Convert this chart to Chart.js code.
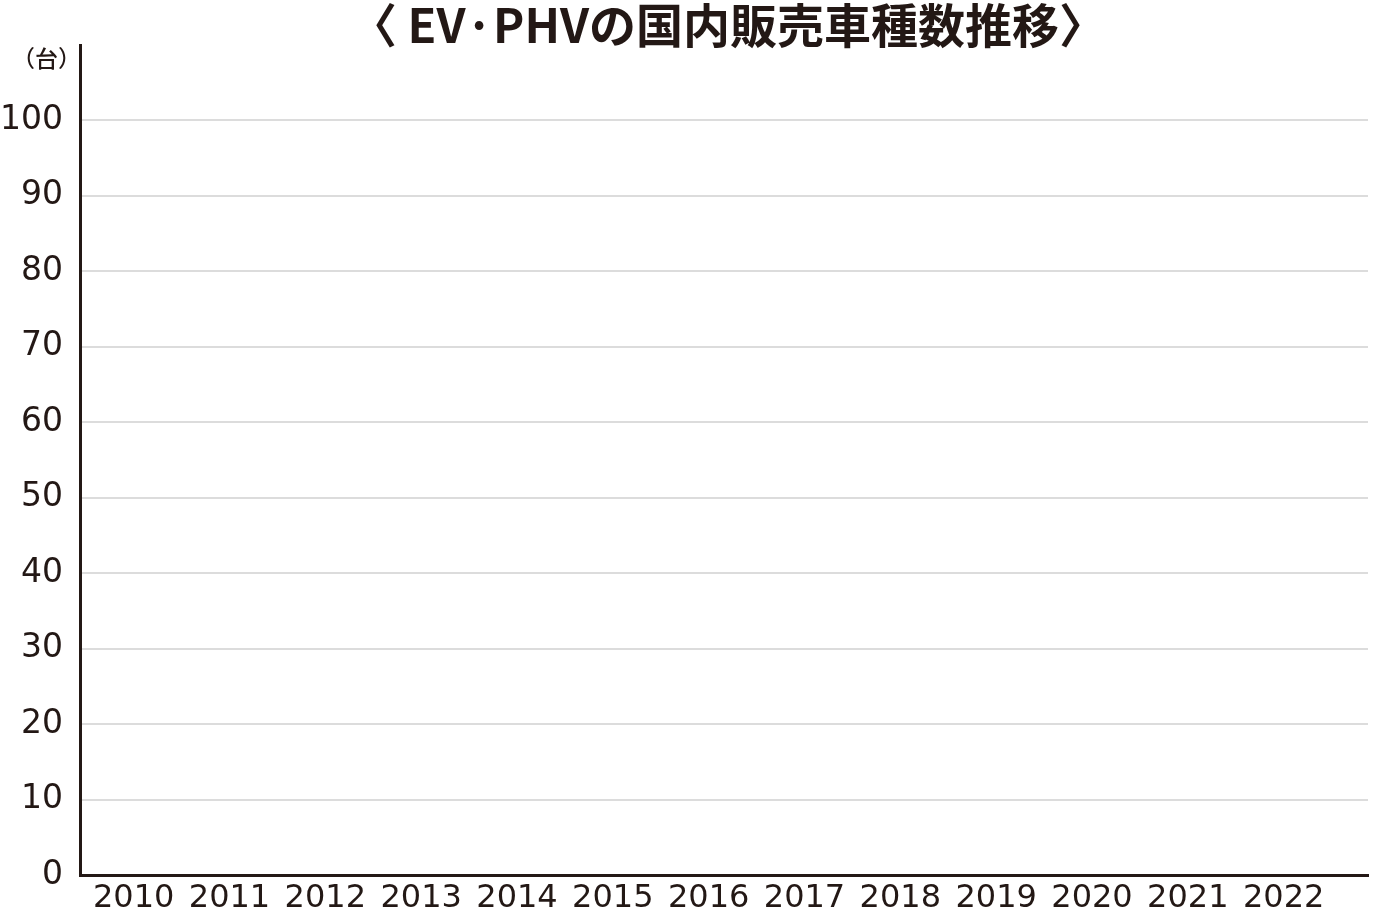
<!DOCTYPE html>
<html>
<head>
<meta charset="utf-8">
<script src="https://cdn.jsdelivr.net/npm/chart.js@4"></script>
<style>
  html, body { margin: 0; padding: 0; background: #fff; }
  #wrap { position: relative; width: 1376px; height: 912px; }
  #title {
    position: absolute; left: 0; top: -2px; width: 1456px; margin: 0;
    text-align: center; font: 700 47px "Noto Sans CJK JP", sans-serif;
    color: #231815; line-height: 50px;
  }
</style>
</head>
<body>
<div id="wrap">
  <canvas id="chart" width="1376" height="912"></canvas>
  <h1 id="title">〈 EV·PHVの国内販売車種数推移〉</h1>
</div>
<script>
// years on the x axis, nothing plotted in the source picture
const years = [2010, 2011, 2012, 2013, 2014, 2015, 2016, 2017, 2018, 2019, 2020, 2021, 2022];
const modelCounts = [null, null, null, null, null, null, null, null, null, null, null, null, null];
const yTicks = [0, 10, 20, 30, 40, 50, 60, 70, 80, 90, 100];
const unitLabel = '（台）';

const ink = '#231815';
const jpFont = '"Noto Sans CJK JP", sans-serif';
const numFont = '"DejaVu Sans", sans-serif';

const unitPlugin = {
  id: 'unit',
  afterDraw(chart) {
    const c = chart.ctx;
    c.save();
    c.font = '500 23px ' + jpFont;
    c.fillStyle = ink;
    c.textAlign = 'right';
    c.textBaseline = 'middle';
    c.fillText(unitLabel, chart.chartArea.left + 1, 58);
    c.restore();
  }
};

new Chart(document.getElementById('chart'), {
  type: 'bar',
  data: {
    datasets: [{
      label: '車種数',
      data: years.map((y, i) => ({ x: y, y: modelCounts[i] })),
      backgroundColor: ink
    }]
  },
  options: {
    responsive: false,
    animation: false,
    layout: { padding: { top: 45, right: 8, left: 0, bottom: 0 } },
    plugins: { legend: { display: false }, tooltip: { enabled: false } },
    scales: {
      x: {
        type: 'linear',
        offset: false,
        min: 2009.44,
        max: 2022.88,
        afterBuildTicks: s => { s.ticks = years.map(v => ({ value: v })); },
        afterFit: s => { s.height = 37; },
        grid: { display: false, drawTicks: false },
        border: { color: ink, width: 3 },
        ticks: {
          color: ink,
          padding: 4,
          maxRotation: 0,
          autoSkip: false,
          font: { family: numFont, size: 32 },
          callback: v => String(v)
        }
      },
      y: {
        min: 0,
        max: 110,
        afterBuildTicks: s => { s.ticks = yTicks.map(v => ({ value: v })); },
        afterFit: s => { s.width = 80; },
        grid: {
          color: ctx => ctx.tick && ctx.tick.value === 0 ? 'rgba(0,0,0,0)' : '#dcdcdc',
          lineWidth: 2,
          drawTicks: false
        },
        border: { color: ink, width: 3 },
        ticks: {
          color: ink,
          padding: 17,
          font: { family: numFont, size: 33 }
        }
      }
    }
  },
  plugins: [unitPlugin]
});
</script>
</body>
</html>
